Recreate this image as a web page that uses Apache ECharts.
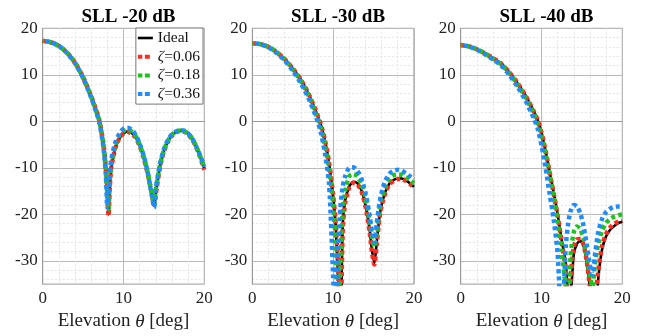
<!DOCTYPE html>
<html>
<head>
<meta charset="utf-8">
<script src="https://cdn.jsdelivr.net/npm/echarts@6/dist/echarts.min.js"></script>
<style>
html,body{margin:0;padding:0;background:#fff;}
#chart{width:654px;height:336px;}
</style>
</head>
<body>
<div id="chart"></div>
<script>
// ---------- data ----------
const panelTitles = ['SLL -20 dB', 'SLL -30 dB', 'SLL -40 dB'];
const seriesNames = ['Ideal', 'ζ=0.06', 'ζ=0.18', 'ζ=0.36'];
const xTicks = [0, 10, 20];
const yTickLabels = [20, 10, 0, -10, -20, -30];

// Panel 1 : SLL -20 dB
const theta1 = [0,1,2,3,4,5,6,6.5,7,7.5,7.8,8.0,8.15,8.3,8.5,9,9.5,10,10.5,11,11.5,12,12.5,13,13.5,13.8,14,14.5,15,15.5,16,16.5,17,17.5,18,18.5,19,19.5,20];
const ideal1 = [17.3,17.0,16.2,14.8,12.6,9.5,5.4,3.0,0.4,-4.5,-9.5,-14.0,-20.0,-14.5,-10.0,-5.8,-3.7,-2.6,-2.2,-2.5,-3.4,-5.2,-7.8,-11.2,-15.5,-18.2,-15.5,-9.8,-6.4,-4.3,-3.0,-2.3,-2.0,-2.1,-2.7,-3.8,-5.5,-7.6,-10.2];
const z006_1 = [17.3,17.0,16.2,14.8,12.6,9.5,5.4,3.0,0.3,-4.6,-9.7,-14.5,-20.3,-14.2,-9.8,-5.7,-3.6,-2.6,-2.3,-2.6,-3.5,-5.3,-7.9,-11.3,-15.6,-18.0,-15.6,-10.0,-6.5,-4.4,-3.1,-2.4,-2.1,-2.2,-2.8,-3.9,-5.6,-7.8,-10.4];
const z018_1 = [17.3,17.0,16.2,14.8,12.6,9.4,5.3,2.8,0.1,-5.0,-10.3,-16.0,-18.8,-12.8,-9.0,-5.1,-3.1,-2.1,-1.8,-2.2,-3.2,-5.0,-7.6,-11.0,-15.5,-17.8,-14.8,-9.5,-6.2,-4.2,-2.9,-2.2,-2.0,-2.1,-2.6,-3.7,-5.4,-7.5,-10.0];
const z036_1 = [17.3,17.0,16.2,14.7,12.5,9.3,5.1,2.6,-0.2,-5.4,-11.0,-18.5,-15.5,-11.3,-8.0,-4.5,-2.6,-1.6,-1.4,-1.8,-2.9,-4.8,-7.4,-11.0,-16.0,-18.5,-14.5,-9.3,-6.0,-4.0,-2.8,-2.2,-1.9,-2.0,-2.6,-3.7,-5.4,-7.4,-9.8];

// Panel 2 : SLL -30 dB
const theta2 = [0,1,2,3,4,5,6,7,8,8.5,9,9.5,10,10.3,10.6,10.9,11.2,11.5,12,12.5,13,13.5,14,14.5,14.8,15.1,15.4,15.7,16,16.5,17,17.5,18,18.5,19,19.5,20];
const ideal2 = [16.8,16.6,16.0,14.9,13.4,11.4,9.0,5.8,1.6,-0.8,-4.2,-9.0,-16.0,-22.0,-33.0,-45,-22.0,-17.0,-14.0,-13.0,-13.3,-14.8,-18.0,-23.0,-27.5,-30.5,-26.0,-21.0,-18.0,-15.0,-13.3,-12.6,-12.3,-12.3,-12.7,-13.3,-14.1];
const z006_2 = [16.8,16.6,16.0,14.9,13.4,11.4,9.0,5.8,1.7,-0.7,-4.1,-8.8,-15.8,-21.5,-31.0,-45,-23.0,-17.5,-14.2,-13.2,-13.5,-15.0,-18.2,-23.5,-28.0,-30.8,-26.5,-21.3,-18.2,-15.2,-13.5,-12.8,-12.4,-12.4,-12.8,-13.4,-14.2];
const z018_2 = [16.8,16.6,16.0,14.9,13.3,11.2,8.7,5.4,1.0,-1.5,-5.2,-10.5,-18.0,-26.0,-45,-30.0,-19.0,-15.0,-11.8,-11.3,-11.8,-13.5,-16.5,-21.0,-24.5,-27.0,-24.0,-19.5,-16.5,-13.8,-12.3,-11.6,-11.4,-11.5,-12.0,-12.6,-13.3];
const z036_2 = [16.8,16.6,15.9,14.7,13.1,10.9,8.2,4.8,0.4,-2.5,-7.0,-13.5,-33.0,-45,-28.0,-18.5,-14.0,-11.8,-10.0,-9.9,-10.6,-12.3,-15.3,-20.0,-23.5,-26.0,-22.0,-18.0,-15.3,-12.6,-11.2,-10.6,-10.4,-10.6,-11.2,-11.8,-12.5];

// Panel 3 : SLL -40 dB
const theta3 = [0,1,2,3,4,5,6,7,8,9,9.5,10,10.5,11,11.5,12,12.5,13,13.3,13.6,14,14.4,14.8,15.2,15.6,16,16.3,16.6,17,17.5,18,18.5,19,19.5,20];
const ideal3 = [16.4,16.1,15.5,14.6,13.6,12.4,10.6,8.3,5.6,2.3,0.4,-2.4,-6.3,-10.8,-15.2,-20.0,-25.5,-30.5,-36.0,-36.0,-28.5,-26.3,-25.7,-26.8,-30.5,-36.0,-45,-45,-34.3,-27.5,-24.7,-23.3,-22.5,-21.9,-21.6];
const z006_3 = [16.4,16.1,15.5,14.6,13.6,12.4,10.6,8.3,5.6,2.3,0.4,-2.4,-6.3,-10.9,-15.4,-20.3,-26.0,-32.0,-45,-34.0,-27.0,-25.4,-25.3,-26.5,-30.0,-36.0,-45,-40,-32.5,-26.8,-24.2,-22.8,-22.0,-21.6,-21.4];
const z018_3 = [16.4,16.1,15.5,14.6,13.5,12.3,10.4,8.0,5.2,1.8,-0.2,-3.1,-7.0,-11.5,-16.0,-21.5,-28.0,-36.0,-45,-29.0,-23.8,-22.6,-23.2,-25.3,-29.0,-33.5,-35.5,-31.0,-26.5,-23.5,-21.8,-21.0,-20.5,-20.2,-20.0];
const z036_3 = [16.4,16.1,15.4,14.4,13.3,12.0,10.0,7.5,4.5,0.8,-1.4,-5.2,-10.0,-15.5,-21.0,-28.5,-45,-27.0,-22.0,-19.3,-18.0,-18.3,-19.8,-22.5,-26.5,-31.0,-33.0,-29.0,-24.0,-21.0,-19.5,-18.8,-18.4,-18.3,-18.3];

const panels = [
  { theta: theta1, values: [ideal1, z006_1, z018_1, z036_1] },
  { theta: theta2, values: [ideal2, z006_2, z018_2, z036_2] },
  { theta: theta3, values: [ideal3, z006_3, z018_3, z036_3] }
];

// ---------- styling ----------
const FONT = "'Liberation Serif','Times New Roman',serif";
const colors = ['#000000', '#ff2a1f', '#1ec31e', '#1e8cff'];
const gridLefts = [42.7, 252.3, 460.7];
const gridW = 161.6, gridTop = 28.3, gridH = 257.5;
const Y_MIN = -35, Y_MAX = 20;

// split line colour cycles (ticks every 1 dB from -35)
const majorCycle = [], minorCycle = [];
for (let i = 0; i < 10; i++) {
  const v = Y_MIN + i;
  const m = ((v % 10) + 10) % 10;
  majorCycle.push(m === 0 ? '#b9b9b9' : 'rgba(0,0,0,0)');
  minorCycle.push(m !== 0 && m % 2 === 0 ? '#e4e4e4' : 'rgba(0,0,0,0)');
}

// legend icons (15 x 4 boxes)
const lineIcon = 'path://M0,0L0,0M0,0.7L15,0.7L15,3.3L0,3.3ZM15,4L15,4';
const dotIcon = 'path://M0,0L4.5,0L4.5,4L0,4ZM7,0L12,0L12,4L7,4ZM15,4L15,4';

const grids = [], xAxes = [], yAxes = [], series = [], titles = [];
panels.forEach((p, g) => {
  grids.push({ left: gridLefts[g], top: gridTop, width: gridW, height: gridH,
    show: true, borderColor: '#9a9a9a', borderWidth: 1, backgroundColor: '#fff' });
  titles.push({ text: panelTitles[g], left: gridLefts[g] + gridW / 2, top: 3, textAlign: 'center',
    textStyle: { fontFamily: FONT, fontSize: 19, fontWeight: 'bold', color: '#000' } });
  xAxes.push({
    gridIndex: g, type: 'value', min: 0, max: 20, interval: 10,
    axisLine: { lineStyle: { color: '#9a9a9a', width: 1 } },
    axisTick: { show: false },
    axisLabel: { fontFamily: FONT, fontSize: 17, color: '#222', margin: 6 },
    splitLine: { show: true, lineStyle: { color: '#b9b9b9', width: 1 } },
    minorTick: { show: false, splitNumber: 5 },
    minorSplitLine: { show: true, lineStyle: { color: '#e4e4e4', width: 1, type: [2, 2] } },
    name: 'Elevation {i|θ} [deg]', nameLocation: 'middle', nameGap: 26,
    nameTextStyle: { fontFamily: FONT, fontSize: 19, color: '#222',
      rich: { i: { fontFamily: FONT, fontSize: 19, fontStyle: 'italic', color: '#222' } } }
  });
  yAxes.push({
    gridIndex: g, type: 'value', min: Y_MIN, max: Y_MAX, interval: 1, position: 'left',
    axisLine: { show: true, lineStyle: { color: '#9a9a9a', width: 1 } },
    axisTick: { show: false },
    axisLabel: { fontFamily: FONT, fontSize: 17, color: '#222', margin: 5,
      formatter: v => (yTickLabels.indexOf(v) >= 0 ? String(v) : '') },
    splitLine: { show: true, lineStyle: { color: majorCycle, width: 1 } }
  });
  yAxes.push({
    gridIndex: g, type: 'value', min: Y_MIN, max: Y_MAX, interval: 1, position: 'left',
    axisLine: { show: false }, axisTick: { show: false }, axisLabel: { show: false },
    splitLine: { show: true, lineStyle: { color: minorCycle, width: 1, type: [2, 2] } }
  });
  p.values.forEach((vals, s) => {
    const isIdeal = s === 0;
    series.push({
      name: seriesNames[s], type: 'line', xAxisIndex: g, yAxisIndex: 2 * g,
      data: p.theta.map((t, k) => [t, vals[k]]),
      symbol: 'none', smooth: 0.25, clip: true, z: 2 + s,
      itemStyle: { color: colors[s] },
      lineStyle: isIdeal
        ? { color: colors[s], width: 2.6 }
        : { color: colors[s], width: 4.5, type: [4, 3.2], dashOffset: (s - 1) * 2.3, cap: 'butt' },
      emphasis: { disabled: true }
    });
  });
});

const chart = echarts.init(document.getElementById('chart'), null, { renderer: 'canvas' });
chart.setOption({
  animation: false,
  backgroundColor: '#fff',
  title: titles,
  grid: grids,
  xAxis: xAxes,
  yAxis: yAxes,
  legend: {
    data: seriesNames.map((n, i) => ({ name: n, icon: i === 0 ? lineIcon : dotIcon })),
    orient: 'vertical', right: 451, top: 28,
    itemWidth: 15, itemHeight: 4, itemGap: 2.7,
    padding: [2, 3, 2, 2],
    backgroundColor: '#fff', borderColor: '#777', borderWidth: 1, borderRadius: 0,
    selectedMode: false,
    textStyle: { fontFamily: FONT, fontSize: 15.5, color: '#111', lineHeight: 16,
      rich: { i: { fontFamily: FONT, fontSize: 15.5, fontStyle: 'italic', color: '#111', lineHeight: 16 } } },
    formatter: n => (n.charAt(0) === 'ζ' ? '{i|ζ}' + n.slice(1) : n)
  },
  series: series
});
</script>
</body>
</html>
